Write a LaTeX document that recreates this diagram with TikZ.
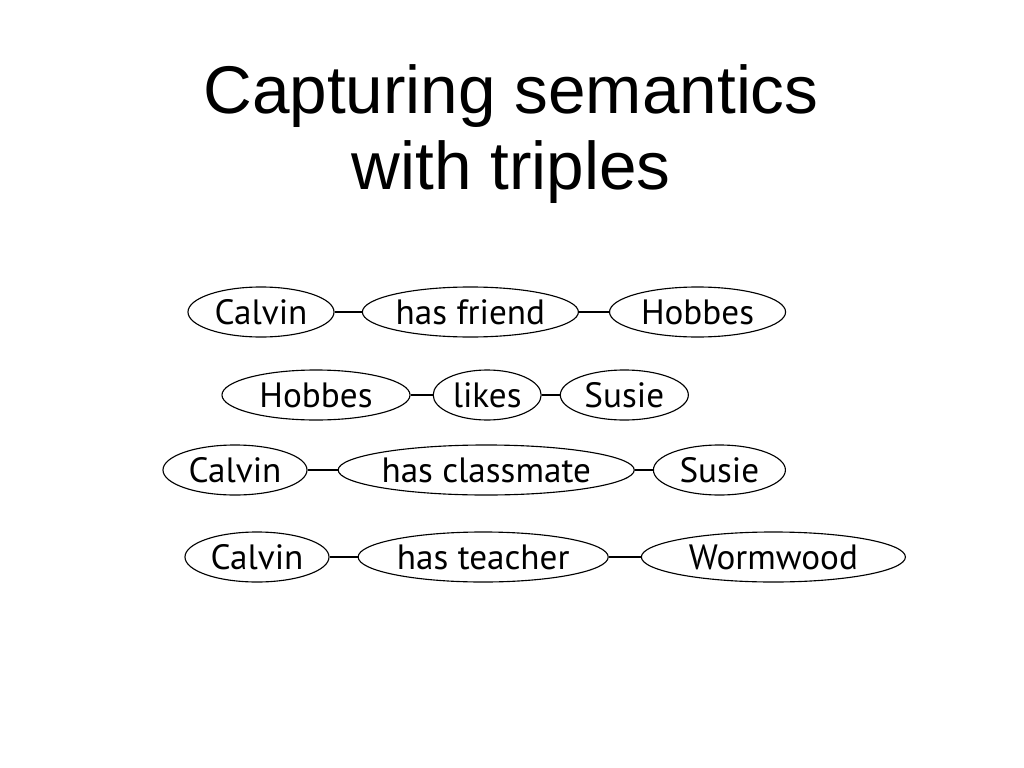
\documentclass[tikz,border=0pt]{standalone}
\usepackage{fontspec}
\setmainfont{Liberation Sans}
\newfontfamily\labelfont{PT Sans}
\usetikzlibrary{positioning}
\usetikzlibrary{shapes.geometric}

\tikzset{
    term/.style={draw, ellipse, thick, inner sep=0pt, minimum height=1.25cm, font=\labelfont\fontsize{25}{28}\selectfont},
    link/.style={thick}
}

\begin{document}
\begin{tikzpicture}[x=0.025cm, y=-0.025cm]
    \useasboundingbox[fill=white] (0,0) rectangle (1024,768);

    \node [align=center, font=\fontsize{48}{54}\selectfont] (title) at (511,134) {Capturing semantics\\with triples};

    % row 1
    \node [term, minimum width=3.65cm] (calvin1) at (261,312) {Calvin};
    \node [term, minimum width=5.4cm, right=0.68cm of calvin1] (friend) {has friend};
    \node [term, minimum width=4.4cm, right=0.75cm of friend] (hobbes1) {Hobbes};

    % row 2
    \node [term, minimum width=4.7cm] (hobbes2) at (316,395) {Hobbes};
    \node [term, minimum width=2.7cm, right=0.55cm of hobbes2] (likes) {likes};
    \node [term, minimum width=3.2cm, right=0.45cm of likes] (susie2) {Susie};

    % row 3
    \node [term, minimum width=3.6cm] (calvin3) at (235,470) {Calvin};
    \node [term, minimum width=7.25cm, right=0.75cm of calvin3] (classmate) {has classmate};
    \node [term, minimum width=3.3cm, right=0.45cm of classmate] (susie3) {Susie};

    % row 4
    \node [term, minimum width=3.6cm] (calvin4) at (257,557) {Calvin};
    \node [term, minimum width=6.25cm, right=0.7cm of calvin4] (teacher) {has teacher};
    \node [term, minimum width=6.6cm, right=0.8cm of teacher] (wormwood) {Wormwood};

    \draw [link] (calvin1) -- (friend) (friend) -- (hobbes1);
    \draw [link] (hobbes2) -- (likes) (likes) -- (susie2);
    \draw [link] (calvin3) -- (classmate) (classmate) -- (susie3);
    \draw [link] (calvin4) -- (teacher) (teacher) -- (wormwood);
\end{tikzpicture}
\end{document}
